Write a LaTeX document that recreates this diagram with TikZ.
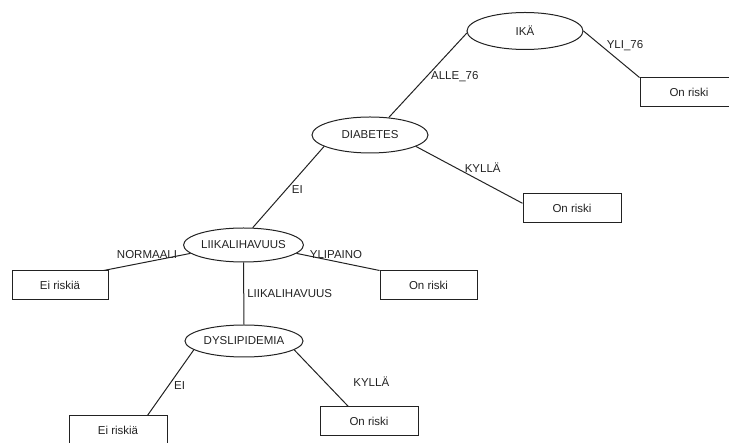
\documentclass[tikz,border=0pt]{standalone}
\usepackage{fontspec}
\setmainfont{Liberation Sans}
\usetikzlibrary{shapes.geometric}
\definecolor{ink}{HTML}{222222}
\tikzset{
  dec/.style={ellipse, draw=ink, line width=1pt, inner sep=0pt, text=ink, font=\fontsize{11.5}{13}\selectfont},
  leaf/.style={rectangle, draw=ink, line width=1pt, inner sep=0pt, minimum width=98pt, minimum height=29pt, text=ink, font=\fontsize{11.5}{13}\selectfont},
  conn/.style={draw=ink, line width=1pt},
  lbl/.style={text=ink, inner sep=0pt, font=\fontsize{11.5}{13}\selectfont}
}
\begin{document}
\begin{tikzpicture}[x=1pt,y=-1pt]
\useasboundingbox (0,0) rectangle (729,443);
\begin{scope}
\clip (0,0) rectangle (729,443);
% decision nodes
\node[dec, minimum width=116pt, minimum height=37pt] (ika) at (525,31) {IKÄ};
\node[dec, minimum width=116pt, minimum height=36pt] (diab) at (370,135) {DIABETES};
\node[dec, minimum width=117pt, minimum height=34pt] (liik) at (243.5,245) {LIIKALIHAVUUS};
\node[dec, minimum width=118pt, minimum height=32pt] (dys) at (244,341) {DYSLIPIDEMIA};
% leaves
\node[leaf] (yli) at (689,92.5) {On riski};
\node[leaf] (r1) at (572,208.5) {On riski};
\node[leaf, minimum width=96pt] (e1) at (60,285.5) {Ei riskiä};
\node[leaf, minimum width=97pt] (r2) at (428.5,285.5) {On riski};
\node[leaf] (e2) at (118,430.5) {Ei riskiä};
\node[leaf] (r3) at (369,421.5) {On riski};
% connectors
\draw[conn] (ika.182) -- node[lbl, pos=0.5, xshift=27pt, yshift=-1pt] {ALLE\_76} (diab.43);
\draw[conn] (ika.east) -- node[lbl, pos=0.5, xshift=13.5pt, yshift=8.5pt] {YLI\_76} (yli.north west);
\draw[conn] (diab.-14) -- node[lbl, pos=0.5, xshift=13.5pt, yshift=7pt] {KYLLÄ} (r1.174);
\draw[conn] (diab.194) -- node[lbl, pos=0.5, xshift=9pt, yshift=-2pt] {EI} (liik.62);
\draw[conn] (liik.189) -- node[lbl, pos=0.5, xshift=0pt, yshift=7pt] {NORMAALI} (e1.19);
\draw[conn] (liik.-9) -- node[lbl, pos=0.5, xshift=-2pt, yshift=7pt] {YLIPAINO} (r2.north west);
\draw[conn] (liik.south) -- node[lbl, pos=0.5, anchor=west, xshift=3pt] {LIIKALIHAVUUS} (dys.north);
\draw[conn] (dys.190) -- node[lbl, pos=0.5, xshift=9pt, yshift=-3pt] {EI} (e2.27);
\draw[conn] (dys.-10) -- node[lbl, pos=0.5, xshift=50pt, yshift=-3.5pt] {KYLLÄ} (r3.144);
\end{scope}
\end{tikzpicture}
\end{document}
